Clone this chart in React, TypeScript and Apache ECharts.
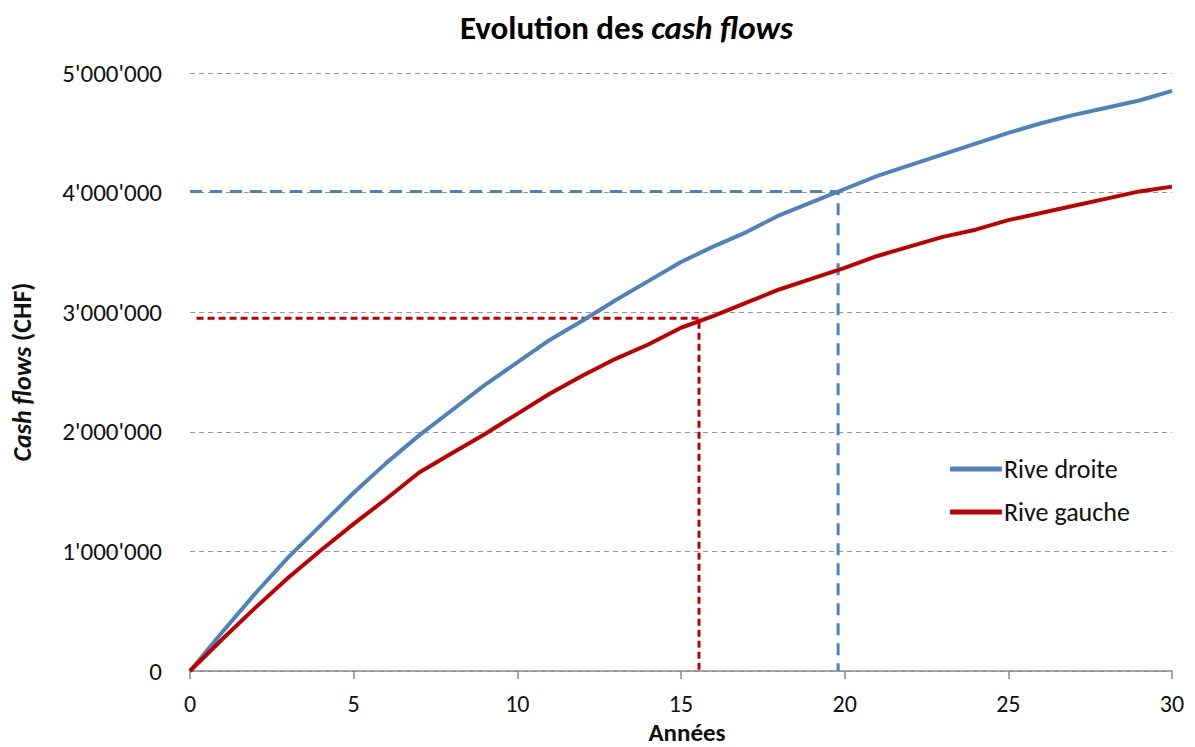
import React, { useEffect, useRef } from "react";
import * as echarts from "echarts";

const years: number[] = [0,1,2,3,4,5,6,7,8,9,10,11,12,13,14,15,16,17,18,19,20,21,22,23,24,25,26,27,28,29,30];
const riveDroite: number[] = [0,330000,650000,950000,1220000,1490000,1740000,1970000,2180000,2390000,2580000,2770000,2930000,3100000,3260000,3420000,3550000,3670000,3810000,3920000,4030000,4140000,4230000,4320000,4410000,4500000,4580000,4650000,4710000,4770000,4850000];
const riveGauche: number[] = [0,270000,530000,780000,1010000,1230000,1440000,1660000,1820000,1980000,2150000,2320000,2470000,2610000,2730000,2870000,2970000,3080000,3190000,3280000,3370000,3470000,3550000,3630000,3690000,3770000,3830000,3890000,3950000,4010000,4050000];
const droiteRef: [number, number][] = [[0, 4010000], [19.8, 4010000], [19.8, 0]];
const gaucheRef: [number, number][] = [[0.2, 2950000], [15.55, 2950000], [15.55, 0]];

const FONT = "Carlito, Lato, 'Open Sans', sans-serif";
const BLUE = "#4F81BD";
const RED = "#C00000";
const TXT = "#111";

function fmt(v: number): string {
  return String(Math.round(v)).replace(/\B(?=(\d{3})+(?!\d))/g, "'");
}

export default function App() {
  const ref = useRef<HTMLDivElement>(null);
  useEffect(() => {
    if (!ref.current) return;
    const chart = echarts.init(ref.current, null, { renderer: "svg" });
    chart.setOption({
      animation: false,
      backgroundColor: "#ffffff",
      textStyle: { fontFamily: FONT },
      title: {
        text: "Evolution des {i|cash flows}",
        left: 455,
        top: 6,
        textStyle: {
          fontFamily: FONT,
          fontSize: 33,
          fontWeight: "bold",
          color: "#000",
          rich: { i: { fontFamily: FONT, fontSize: 33, fontWeight: "bold", fontStyle: "italic", color: "#000" } },
        },
      },
      legend: {
        orient: "vertical",
        left: 945,
        top: 451,
        itemWidth: 52,
        itemHeight: 5,
        itemGap: 17,
        icon: "roundRect",
        data: ["Rive droite", "Rive gauche"],
        textStyle: { fontFamily: FONT, fontSize: 26, color: TXT, padding: [0, 0, 0, -3] },
      },
      grid: { left: 190, right: 23, top: 73, bottom: 76, containLabel: false, outerBoundsMode: "none" },
      xAxis: {
        type: "value",
        min: 0,
        max: 30,
        interval: 5,
        name: "Années",
        nameLocation: "middle",
        nameGap: 47,
        nameTextStyle: { fontFamily: FONT, fontSize: 25, fontWeight: "bold", color: TXT, padding: [0, 0, 0, 12] },
        axisLine: { show: true, lineStyle: { color: "#888", width: 1.5 } },
        axisTick: { show: true, length: 8, lineStyle: { color: "#888", width: 1.5 } },
        axisLabel: { fontFamily: FONT, fontSize: 24, color: TXT, margin: 20, formatter: (v: number) => String(v) },
        splitLine: { show: false },
      },
      yAxis: {
        type: "value",
        min: 0,
        max: 5000000,
        interval: 1000000,
        name: "{i|Cash flows} {b|(CHF)}",
        nameLocation: "middle",
        nameRotate: 90,
        nameGap: 155,
        nameTextStyle: {
          fontFamily: FONT,
          fontSize: 26,
          fontWeight: "bold",
          color: TXT,
          rich: {
            i: { fontFamily: FONT, fontSize: 26, fontWeight: "bold", fontStyle: "italic", color: TXT },
            b: { fontFamily: FONT, fontSize: 26, fontWeight: "bold", color: TXT },
          },
        },
        axisLine: { show: false },
        axisTick: { show: false },
        axisLabel: { fontFamily: FONT, fontSize: 25, color: TXT, margin: 28, formatter: (v: number) => fmt(v) },
        splitLine: { show: true, lineStyle: { color: "#999", width: 1.2, type: [5, 4] } },
      },
      series: [
        {
          name: "Rive droite",
          type: "line",
          data: years.map((y, i) => [y, riveDroite[i]]),
          symbol: "none",
          lineStyle: { color: BLUE, width: 4 },
          itemStyle: { color: BLUE },
          z: 3,
        },
        {
          name: "Rive gauche",
          type: "line",
          data: years.map((y, i) => [y, riveGauche[i]]),
          symbol: "none",
          lineStyle: { color: RED, width: 4 },
          itemStyle: { color: RED },
          z: 3,
        },
        {
          name: "ref droite",
          type: "line",
          data: droiteRef,
          symbol: "none",
          lineStyle: { color: BLUE, width: 3, type: [12, 8] },
          z: 2,
        },
        {
          name: "ref gauche",
          type: "line",
          data: gaucheRef,
          symbol: "none",
          lineStyle: { color: RED, width: 3, type: [7, 4] },
          z: 2,
        },
      ],
    });
    return () => chart.dispose();
  }, []);
  return (
    <div
      ref={ref}
      style={{ position: "absolute", left: 0, top: 0, width: 1195, height: 747 }}
    />
  );
}
